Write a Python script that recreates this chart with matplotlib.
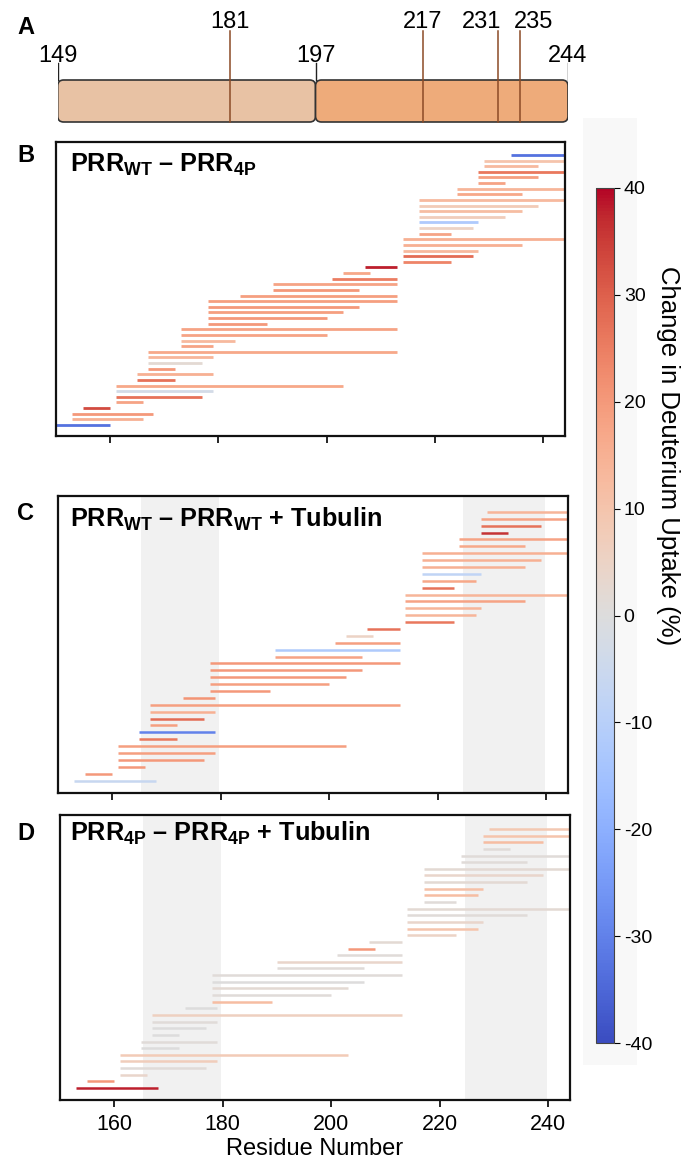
import matplotlib
matplotlib.use("Agg")
import matplotlib.pyplot as plt
import numpy as np
from matplotlib.colors import Normalize
from matplotlib.cm import ScalarMappable
from matplotlib.patches import FancyBboxPatch, Rectangle

plt.rcParams['font.family'] = ['Liberation Sans', 'DejaVu Sans']
plt.rcParams['mathtext.fontset'] = 'custom'
plt.rcParams['mathtext.rm'] = 'Liberation Sans'
plt.rcParams['mathtext.bf'] = 'Liberation Sans:bold'
plt.rcParams['axes.unicode_minus'] = False

W, H = 684, 1158

# ---- panel A: domain map ----
domain_bounds = [149, 197, 244]
domain_colors = ['#e8c2a4', '#eeab7a']
site_marks = [181, 217, 231, 235]

# ---- panel B: PRR_WT - PRR_4P, peptides bottom row first ----
b_start = [149, 153, 153, 155, 161, 161, 161, 161, 165, 165, 167, 167, 167, 167,
           173, 173, 173, 173, 178, 178, 178, 178, 178, 184, 190, 190, 201, 203,
           207, 214, 214, 214, 214, 214, 217, 217, 217, 217, 217, 217, 217, 224,
           224, 228, 228, 228, 229, 229, 234]
b_end = [160, 166, 168, 160, 166, 177, 179, 203, 172, 179, 172, 177, 179, 213,
         179, 183, 200, 213, 189, 200, 203, 206, 213, 213, 206, 213, 213, 208,
         213, 223, 227, 228, 236, 244, 223, 227, 228, 233, 236, 239, 244, 236,
         244, 233, 239, 244, 239, 244, 244]
b_val = [-33, 15, 20, 33, 18, 27, -3, 17, 27, 15, 20, 2, 14, 17,
         18, 13, 18, 18, 20, 20, 19, 20, 19, 19, 20, 18, 25, 17,
         38, 24, 28, 13, 15, 15, 18, 5, -12, 7, 12, 8, 13, 17,
         14, 18, 19, 26, 13, 10, -33]

# ---- panels C and D share one peptide list ----
cd_start = [153, 155, 161, 161, 161, 161, 165, 165, 167, 167, 167, 167, 173, 178,
            178, 178, 178, 178, 190, 190, 201, 203, 207, 214, 214, 214, 214, 214,
            217, 217, 217, 217, 217, 217, 224, 224, 228, 228, 228, 229]
cd_end = [168, 160, 166, 177, 179, 203, 172, 179, 172, 177, 179, 213, 179, 189,
          200, 203, 206, 213, 206, 213, 213, 208, 213, 223, 227, 228, 236, 244,
          223, 227, 228, 236, 239, 244, 236, 244, 233, 239, 244, 244]
c_val = [-6, 20, 20, 20, 19, 19, 26, -30, 19, 28, 15, 19, 21, 20,
         19, 20, 20, 20, 18, -12, 19, 5, 27, 26, 14, 14, 18, 14,
         27, 17, -8, 15, 15, 15, 17, 18, 36, 27, 18, 14]
d_val = [38, 20, 4, 1, 7, 8, 0, 1, 0, 0, 1, 6, 0, 12,
         1, 2, 0, 1, 1, 4, 1, 20, 2, 5, 10, 4, 1, 2,
         1, 12, 11, 2, 4, 2, 1, 1, 1, 12, 10, 9]

shade_regions = [(165.3, 179.6), (224.6, 239.8)]
xticks = [160, 180, 200, 220, 240]
cbar_ticks = list(range(-40, 41, 10))

cmap = plt.get_cmap('coolwarm')
norm = Normalize(-40, 40)

fig = plt.figure(figsize=(W / 100, H / 100), dpi=100)


def px_axes(l, t, r, b):
    return fig.add_axes([l / W, 1 - b / H, (r - l) / W, (b - t) / H])


def fig_text(x, y, s, **kw):
    return fig.text(x / W, 1 - y / H, s, **kw)


# faint backdrop behind the colorbar
fig.patches.append(Rectangle((583 / W, 1 - 1065 / H), 54 / W, 947 / H,
                             transform=fig.transFigure, facecolor='#f8f8f8',
                             edgecolor='none', zorder=-5))

# ---- A ----
axA = px_axes(57.7, 0, 568, 130)
axA.set_xlim(domain_bounds[0], domain_bounds[-1])
axA.set_ylim(130, 0)
axA.axis('off')
for lo, hi, c in zip(domain_bounds[:-1], domain_bounds[1:], domain_colors):
    axA.add_patch(FancyBboxPatch((lo, 80), hi - lo, 42,
                                 boxstyle='round,pad=0,rounding_size=1.1',
                                 mutation_aspect=5.37, facecolor=c,
                                 edgecolor='#333333', lw=1.2, zorder=2))
for x in domain_bounds:
    axA.plot([x, x], [63, 80], color='#222222', lw=1.0, zorder=3)
    axA.text(x, 62, str(x), ha='center', va='baseline', fontsize=17)
label_shift = {231: -3.0, 235: 2.5}
for x in site_marks:
    axA.plot([x, x], [31, 122], color='#8b4a26', lw=1.1, zorder=3)
    axA.text(x + label_shift.get(x, 0), 28, str(x), ha='center', va='baseline',
             fontsize=17)


# ---- peptide panels ----
def draw_peptides(ax, starts, ends, vals, lw, ylim, shaded):
    rows = np.arange(len(starts))
    if shaded:
        for lo, hi in shade_regions:
            ax.axvspan(lo, hi, color='#f1f1f1', lw=0, zorder=0)
    ax.hlines(rows, starts, ends, colors=cmap(norm(np.asarray(vals, float))),
              lw=lw, capstyle='butt', zorder=2)
    ax.set_xlim(150, 244)
    ax.set_ylim(*ylim)
    ax.set_yticks([])
    ax.set_xticks(xticks)
    ax.tick_params(axis='x', direction='out', length=5, width=1.2,
                   labelsize=15.5, pad=5)
    for sp in ax.spines.values():
        sp.set_linewidth(1.6)
        sp.set_color('#111111')


axB = px_axes(56, 142, 565, 436)
draw_peptides(axB, b_start, b_end, b_val, 2.0, (-1.96, 50.3), False)
axB.tick_params(labelbottom=False)

axC = px_axes(58, 496, 568, 793)
draw_peptides(axC, cd_start, cd_end, c_val, 1.8, (-1.8, 41.3), True)
axC.tick_params(labelbottom=False)

axD = px_axes(60, 815, 570, 1100)
draw_peptides(axD, cd_start, cd_end, d_val, 1.8, (-1.8, 41.1), True)
axD.set_xlabel('Residue Number', fontsize=17, labelpad=2)

title_kw = dict(fontsize=18.2, fontweight='bold', ha='left', va='baseline')
fig_text(70.5, 172, r'PRR$_\mathbf{WT}$ – PRR$_\mathbf{4P}$', **title_kw)
fig_text(70.5, 527, r'PRR$_\mathbf{WT}$ – PRR$_\mathbf{WT}$ + Tubulin', **title_kw)
fig_text(70.5, 841, r'PRR$_\mathbf{4P}$ – PRR$_\mathbf{4P}$ + Tubulin', **title_kw)

for letter, y in zip('ABCD', [28, 156, 514, 833]):
    fig_text(26, y, letter, fontsize=17, fontweight='bold', ha='center', va='center')

# ---- colorbar ----
cax = px_axes(596, 188, 614, 1043)
cb = fig.colorbar(ScalarMappable(norm=norm, cmap=cmap), cax=cax, ticks=cbar_ticks)
cb.outline.set_linewidth(0.8)
cb.outline.set_edgecolor('#444444')
cax.tick_params(length=4, width=0.8, labelsize=14, pad=3)
fig_text(668, 456, 'Change in Deuterium Uptake (%)', rotation=270,
         ha='center', va='center', fontsize=18.5)

fig.savefig('out.png', dpi=100)
